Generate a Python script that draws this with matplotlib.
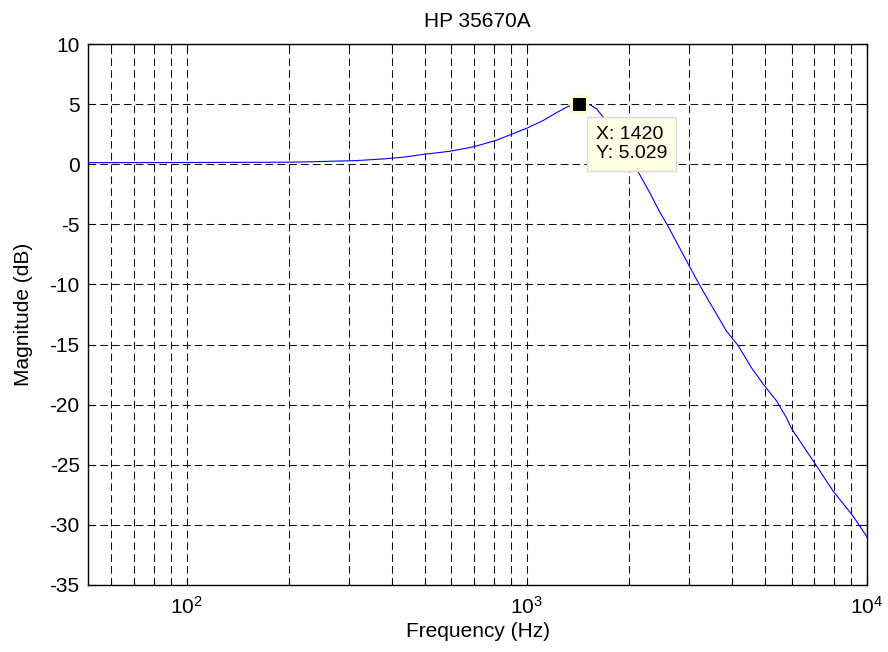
import matplotlib
matplotlib.use("Agg")
import matplotlib.pyplot as plt
import numpy as np
from matplotlib.ticker import LogLocator, FixedLocator, NullFormatter

plt.rcParams['font.family'] = ['Liberation Sans', 'DejaVu Sans']
plt.rcParams['mathtext.fontset'] = 'custom'
plt.rcParams['mathtext.rm'] = 'Liberation Sans'
plt.rcParams['mathtext.default'] = 'regular'
plt.rcParams['lines.scale_dashes'] = False

# ---- data ----
freq_hz = [51.2, 100, 200, 227, 315, 382, 438, 484, 594, 697, 815, 893, 1000,
           1119, 1224, 1320, 1420, 1532, 1603, 1700, 1800, 1900, 2000, 2130,
           2300, 2450, 2605, 2853, 3226, 3866, 4182, 4578, 4955, 5424,
           5800, 6003, 7107, 7955, 9117, 10000]
magnitude_db = [0.13, 0.14, 0.17, 0.2, 0.3, 0.45, 0.6, 0.78, 1.08, 1.45, 2.0, 2.45, 3.0,
                3.65, 4.3, 4.8, 5.029, 4.95, 4.6, 3.7, 2.6, 1.5, 0.6, -0.7,
                -2.4, -3.9, -5.2, -7.3, -10.1, -13.9, -15.1, -16.95, -18.3, -19.7,
                -21.1, -22.0, -25.1, -27.2, -29.3, -31.0]
tip_x = 1420
tip_y = 5.029
y_ticks = [-35, -30, -25, -20, -15, -10, -5, 0, 5, 10]
x_major = [100, 1000, 10000]
x_major_labels = ['$10^{2}$', '$10^{3}$', '$10^{4}$']
title_text = 'HP 35670A'
x_label = 'Frequency (Hz)'
y_label = 'Magnitude (dB)'

fig = plt.figure(figsize=(8.88, 6.52), dpi=100)
ax = fig.add_axes([88/888, 67/652, (867-88)/888, (585-44)/652])

ax.semilogx(freq_hz, magnitude_db, color='#0000FF', linewidth=0.8, zorder=3)

ax.set_xlim(51.2, 10000)
ax.set_ylim(-35, 10)
ax.set_yticks(y_ticks)
ax.set_yticklabels([str(v) for v in y_ticks])
ax.xaxis.set_major_locator(FixedLocator(x_major))
ax.set_xticklabels(x_major_labels)
ax.xaxis.set_minor_locator(LogLocator(base=10, subs=np.arange(2, 10), numticks=20))
ax.xaxis.set_minor_formatter(NullFormatter())

grid_kw = dict(color='#111111', linewidth=0.75, linestyle=(0, (5.5, 3)))
ax.grid(True, which='major', axis='both', **grid_kw)
ax.grid(True, which='minor', axis='x', **grid_kw)
ax.set_axisbelow(True)

ax.tick_params(which='both', direction='in', top=True, right=True,
               labelsize=15, width=0.8, color='black')
ax.tick_params(which='major', length=5)
ax.tick_params(which='minor', length=3)
ax.tick_params(axis='x', pad=8)
ax.tick_params(axis='y', pad=6)
for s in ax.spines.values():
    s.set_linewidth(1.0)
    s.set_color('black')

ax.set_title(title_text, fontsize=15, pad=12)
ax.set_xlabel(x_label, fontsize=15, labelpad=3)
ax.set_ylabel(y_label, fontsize=15, labelpad=12)

# data tip
ax.plot([tip_x], [tip_y], marker='s', markersize=11, markerfacecolor='black',
        markeredgecolor='#FFFFD0', markeredgewidth=2.2, zorder=5)
ax.annotate(f'X: {tip_x}\nY: {tip_y}', xy=(tip_x, tip_y), xytext=(17, -22),
            textcoords='offset pixels', ha='left', va='top', fontsize=14,
            linespacing=1.2, zorder=6,
            bbox=dict(boxstyle='square,pad=0.45', facecolor='#FFFFE6',
                      edgecolor='#D8D8D8', linewidth=1.0))

fig.savefig('out.png', dpi=100)
